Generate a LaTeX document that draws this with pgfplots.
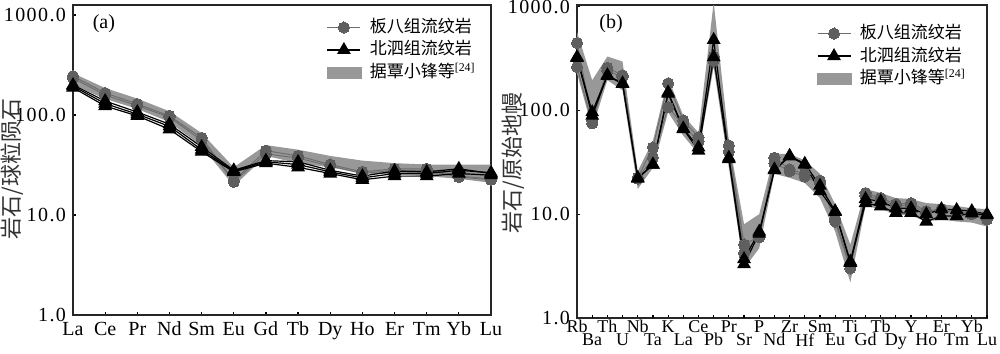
\documentclass[border=0pt]{standalone}
\usepackage{fontspec}
\setmainfont{Liberation Serif}
\newfontfamily\cjk{Noto Sans CJK SC}
\newfontfamily\ytickfont[LetterSpace=7]{Liberation Serif}
\usepackage{pgfplots}
\usepackage{pgfplotstable}
\pgfplotsset{compat=1.18}

\definecolor{markgray}{RGB}{95,95,95}
\definecolor{linegray}{RGB}{110,110,110}
\definecolor{bandgray}{RGB}{152,152,152}

% Panel (a): chondrite-normalised REE
\pgfplotstableread{
x C1 C2 T1 T2 T3
0 245 235 200 195 188
1 166 158 138 130 123
2 129 124 107 102 98
3 98 95 81 77 72
4 59 56 48 45 43
5 22 21.5 28 27.5 27
6 44 41 35 34 33
7 39 37 34 32 30
8 32 31 28 27 26
9 27 26 24.5 23.5 22.5
10 29 28 27.5 26 24.5
11 29 28 27 26 24.5
12 24.5 24 29 28 26
13 23 22.5 26 26.5 25
}\dataA

% Panel (b): primitive-mantle-normalised spider diagram
\pgfplotstableread{
x C1 C2 T1 T2
0 447 262 326 320
1 80 75 96 89
2 257 240 218 215
3 218 210 182 180
4 22.4 22 22.4 22
5 44 35 30 30
6 182 107 149 145
7 80 72 67 66
8 55 50 44 41
9 330 300 478 326
10 46 40 35 34
11 5.1 4.2 3.7 3.3
12 6.1 6.0 6.8 6.5
13 35 31 27 26.5
14 27 26 36.5 36
15 24.5 23 30.6 30
16 21 20 18.8 16.7
17 8.5 9.0 10.7 10.5
18 3.0 3.2 3.5 3.4
19 16 15 14 12.8
20 14.3 13.8 13.3 11.9
21 12.5 12 11.4 10.3
22 12.8 12.3 11.4 10.3
23 10.7 10.2 10 8.5
24 11.2 10.8 11.2 9.6
25 10.2 10.5 11 9.6
26 10 10.3 10.7 10.2
27 8.9 9.2 10 9.8
}\dataB

\pgfplotsset{
  circ/.style={linegray, line width=0.5pt, mark=*, mark size=2.8pt,
    mark options={fill=markgray, draw=markgray, line width=0pt}},
  tri/.style={black, line width=0.6pt, mark=triangle*, mark size=3.4pt,
    mark options={fill=black, draw=black}},
  every axis/.append style={
    scale only axis, ymode=log, ymin=1,
    axis line style={line width=0.8pt, black!85},
    tick align=inside, major tick length=1.5pt,
    tick style={black, line width=0.6pt},
    xtick pos=bottom, ytick pos=left, yminorticks=false,
    ytick={1,10,100,1000}, yticklabels={1.0,10.0,100.0,1000.0},
    xticklabel style={font=\fontsize{10}{11}\selectfont},
    yticklabel style={font=\ytickfont\fontsize{10}{11}\selectfont},
    ylabel style={font=\cjk\fontsize{11}{12}\selectfont, black!80, anchor=center},
    legend style={draw=none, fill=none, anchor=north east, inner sep=0pt,
      font=\cjk\fontsize{8.5}{9}\selectfont, row sep=1.25pt,
      nodes={inner sep=1pt, text height=6.5pt, text depth=1.5pt},
      /tikz/every odd column/.append style={column sep=3pt}},
    legend cell align=left,
    legend image code/.code={\draw[mark repeat=2,mark phase=2] plot coordinates {(0pt,0pt) (8.25pt,0pt) (16.5pt,0pt)};},
  },
}

\begin{document}
\begin{tikzpicture}
\useasboundingbox (0,0) rectangle (500pt,176.5pt);

\begin{axis}[
  at={(36.5pt,19pt)}, anchor=south west,
  width=209pt, height=155pt,
  ymax=1260, xmin=0, xmax=13,
  xtick={0,...,13},
  xticklabels={La,Ce,Pr,Nd,Sm,Eu,Gd,Tb,Dy,Ho,Er,Tm,Yb,Lu},
  ylabel={岩石/球粒陨石},
  ylabel style={at={(axis description cs:-0.145,0.47)}},
  legend style={at={(rel axis cs:0.969,0.961)}},
]
% band (range from reference data): upper edge then lower edge reversed
\addplot[fill=bandgray, draw=none, forget plot] coordinates {
 (0,262)(1,186)(2,146)(3,109)(4,66)(5,30)(6,50)(7,45)(8,39)(9,35)(10,33)(11,32)(12,32)(13,32)
 (13,21)(12,23)(11,24.5)(10,25.5)(9,26)(8,30)(7,33)(6,39)(5,19.5)(4,49)(3,85)(2,115)(1,145)(0,200)};
\addplot[circ, forget plot] table[x=x,y=C1]{\dataA};
\addplot[circ, forget plot] table[x=x,y=C2]{\dataA};
\addplot[tri, forget plot] table[x=x,y=T1]{\dataA};
\addplot[tri, forget plot] table[x=x,y=T2]{\dataA};
\addplot[tri, forget plot] table[x=x,y=T3]{\dataA};
\addlegendimage{circ}
\addlegendentry{板八组流纹岩}
\addlegendimage{tri}
\addlegendentry{北泗组流纹岩}
\addlegendimage{legend image code/.code={\fill[bandgray] (0pt,-2.75pt) rectangle (17pt,2.75pt);}}
\addlegendentry{据覃小锋等\textsuperscript{\rmfamily[24]}}
\node[font=\fontsize{10}{11}\selectfont] at (rel axis cs:0.074,0.94) {(a)};
\end{axis}

\begin{axis}[
  at={(288.5pt,17.5pt)}, anchor=south west,
  width=205pt, height=156.5pt,
  ymax=1035, xmin=0, xmax=27,
  xtick={0,2,...,26},
  xticklabels={Rb,Th,Nb,K,Ce,Pr,P,Zr,Sm,Ti,Tb,Y,Er,Yb},
  xticklabel style={font=\fontsize{9}{10}\selectfont, inner sep=1pt},
  extra x ticks={1,3,...,27},
  extra x tick labels={Ba,U,Ta,La,Pb,Sr,Nd,Hf,Eu,Gd,Dy,Ho,Tm,Lu},
  extra x tick style={xticklabel style={yshift=-6.5pt}},
  ylabel={岩石/原始地幔},
  ylabel style={at={(axis description cs:-0.156,0.495)}},
  legend style={at={(rel axis cs:0.954,0.942)}},
]
\addplot[fill=bandgray, draw=none, forget plot] coordinates {
 (0,570)(1,195)(2,330)(3,295)(4,26)(5,51)(6,204)(7,89)(8,61)(9,1100)(10,51)(11,8)(12,10)(13,38)(14,38)(15,33)(16,24.5)(17,12.5)(18,5.1)(19,17.5)(20,16)(21,14.3)(22,14)(23,12.8)(24,12.5)(25,12)(26,11.4)(27,11.2)
 (27,7.6)(26,8.3)(25,8.5)(24,8.9)(23,8.5)(22,9.7)(21,10)(20,11.2)(19,12)(18,2.2)(17,6.8)(16,14.3)(15,20)(14,22.4)(13,24.5)(12,4.7)(11,3.0)(10,28)(9,262)(8,38)(7,57)(6,96)(5,28)(4,17.5)(3,156)(2,195)(1,67)(0,228)};
\addplot[circ, forget plot] table[x=x,y=C1]{\dataB};
\addplot[circ, forget plot] table[x=x,y=C2]{\dataB};
\addplot[tri, forget plot] table[x=x,y=T1]{\dataB};
\addplot[tri, forget plot] table[x=x,y=T2]{\dataB};
\addlegendimage{circ}
\addlegendentry{板八组流纹岩}
\addlegendimage{tri}
\addlegendentry{北泗组流纹岩}
\addlegendimage{legend image code/.code={\fill[bandgray] (0pt,-2.75pt) rectangle (17pt,2.75pt);}}
\addlegendentry{据覃小锋等\textsuperscript{\rmfamily[24]}}
\node[font=\fontsize{10}{11}\selectfont] at (rel axis cs:0.083,0.94) {(b)};
\end{axis}
\end{tikzpicture}
\end{document}
